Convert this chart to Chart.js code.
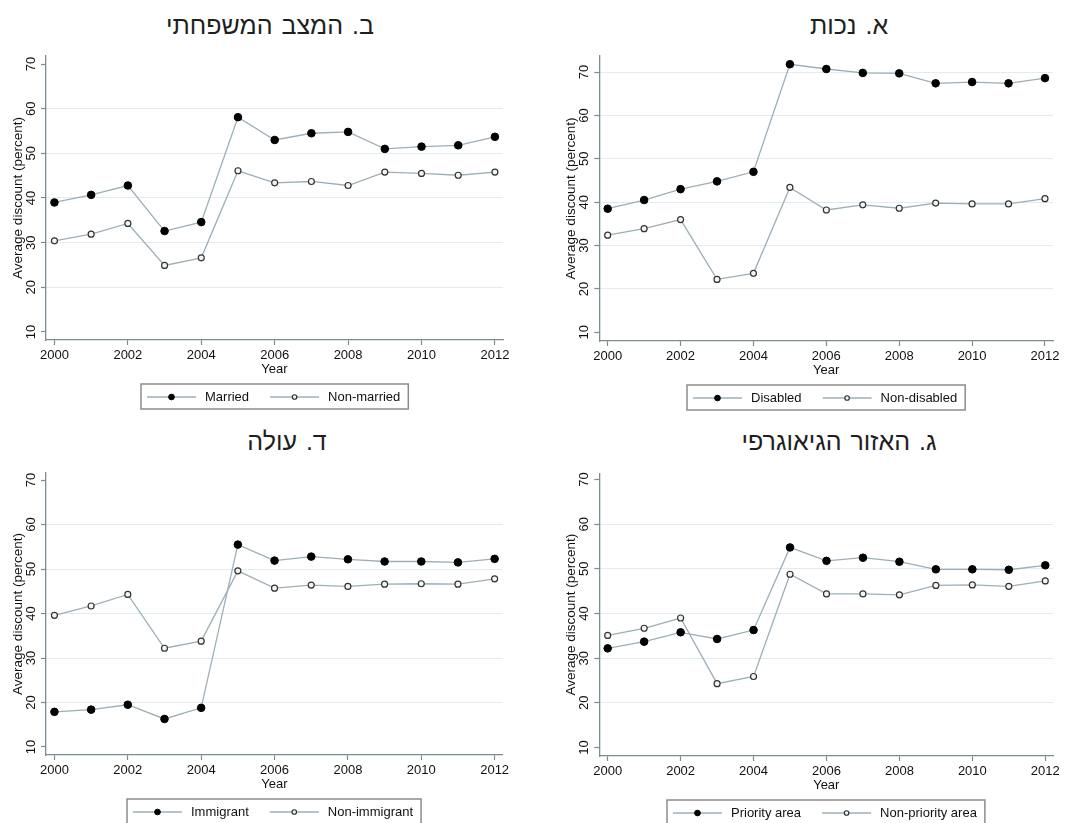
<!DOCTYPE html>
<html>
<head>
<meta charset="utf-8">
<script src="https://cdn.jsdelivr.net/npm/chart.js@4.4.1/dist/chart.umd.min.js"></script>
<style>
  html, body { margin: 0; padding: 0; background: #fff; }
  #page { position: relative; width: 1072px; height: 823px; overflow: hidden; background: #fff; }
  .panel { position: absolute; }
  .panel canvas { display: block; }
  .title {
    position: absolute; width: 400px; text-align: center;
    font-family: "Liberation Sans", Arial, sans-serif; font-size: 25px; line-height: 25px;
    color: #1e1e1e; direction: rtl; white-space: nowrap; word-spacing: 2px;
  }
</style>
</head>
<body>
<div id="page">
  <div class="title" style="left:70px;top:13px">ב. המצב המשפחתי</div>
  <div class="title" style="left:649px;top:13px">א. נכות</div>
  <div class="title" style="left:87px;top:429px">ד. עולה</div>
  <div class="title" style="left:639px;top:429px">ג. האזור הגיאוגרפי</div>

  <div class="panel" style="left:0;top:0;"><canvas id="cMarried" width="536" height="420"></canvas></div>
  <div class="panel" style="left:536px;top:0;"><canvas id="cDisabled" width="536" height="420"></canvas></div>
  <div class="panel" style="left:0;top:420px;"><canvas id="cImmigrant" width="536" height="403"></canvas></div>
  <div class="panel" style="left:536px;top:420px;"><canvas id="cPriority" width="536" height="403"></canvas></div>
</div>

<script>
// Survey years and axis ticks
const years = [2000, 2001, 2002, 2003, 2004, 2005, 2006, 2007, 2008, 2009, 2010, 2011, 2012];
const xTickYears = [2000, 2002, 2004, 2006, 2008, 2010, 2012];
const yTickValues = [10, 20, 30, 40, 50, 60, 70];

// Average discount (percent) by group
const married      = [39.0, 40.7, 42.8, 32.6, 34.6, 58.1, 53.0, 54.5, 54.8, 51.0, 51.5, 51.8, 53.7];
const nonMarried   = [30.4, 31.9, 34.3, 24.9, 26.6, 46.1, 43.4, 43.7, 42.8, 45.8, 45.5, 45.1, 45.8];

const disabled     = [38.5, 40.5, 43.0, 44.8, 47.0, 71.8, 70.7, 69.8, 69.7, 67.4, 67.7, 67.4, 68.6];
const nonDisabled  = [32.4, 33.9, 36.0, 22.2, 23.6, 43.4, 38.2, 39.4, 38.6, 39.8, 39.6, 39.6, 40.8];

const immigrant    = [17.9, 18.4, 19.5, 16.3, 18.8, 55.5, 51.9, 52.8, 52.2, 51.7, 51.7, 51.5, 52.3];
const nonImmigrant = [39.6, 41.7, 44.3, 32.2, 33.8, 49.6, 45.7, 46.4, 46.1, 46.6, 46.7, 46.6, 47.8];

const priority     = [32.2, 33.7, 35.8, 34.3, 36.3, 54.8, 51.8, 52.5, 51.6, 49.9, 49.9, 49.8, 50.8];
const nonPriority  = [35.1, 36.7, 39.0, 24.3, 25.9, 48.8, 44.4, 44.4, 44.2, 46.3, 46.4, 46.1, 47.3];

const FONT = '"Liberation Sans", Arial, Helvetica, sans-serif';
const TEXT = '#111111';
const AXIS = '#7d8c93';
const GRID = '#e1ecf0';
const LINE = '#9cafb9';

Chart.defaults.font.family = FONT;
Chart.defaults.color = TEXT;

// Axis labels, titles and the boxed legend underneath each plot
const panelDecor = {
  id: 'panelDecor',
  afterDraw(chart, args, opts) {
    const { ctx, chartArea: a, scales: { y } } = chart;
    ctx.save();
    ctx.fillStyle = TEXT;

    // rotated y tick labels
    ctx.font = '13px ' + FONT;
    ctx.textAlign = 'center';
    ctx.textBaseline = 'middle';
    y.ticks.forEach(t => {
      const py = y.getPixelForValue(t.value);
      ctx.save();
      ctx.translate(a.left - 14.5, py);
      ctx.rotate(-Math.PI / 2);
      ctx.fillText(String(t.value), 0, 0);
      ctx.restore();
    });

    // y axis title
    ctx.save();
    ctx.font = '13.5px ' + FONT;
    ctx.translate(a.left - 28, (a.top + a.bottom) / 2);
    ctx.rotate(-Math.PI / 2);
    ctx.fillText(opts.yTitle, 0, 0);
    ctx.restore();

    // x axis title
    ctx.font = '13px ' + FONT;
    ctx.fillText(opts.xTitle, (a.left + a.right) / 2, a.bottom + 29);

    // legend
    const sample = 49, gapText = 9, gapItem = 21, padL = 6, padR = 8, boxH = 25;
    const items = chart.data.datasets.map(ds => ({
      label: ds.label,
      fill: ds.pointBackgroundColor,
      stroke: ds.pointBorderColor,
      strokeW: ds.pointBorderWidth,
      r: ds.pointRadius * 0.75,
      line: ds.borderColor,
      w: ctx.measureText(ds.label).width
    }));
    let total = padL + padR;
    items.forEach((it, i) => { total += sample + gapText + it.w + (i ? gapItem : 0); });
    const bx = Math.round((a.left + a.right) / 2 - total / 2);
    const by = a.bottom + 44;
    ctx.fillStyle = '#fff';
    ctx.fillRect(bx, by, total, boxH);
    ctx.strokeStyle = '#8c8c8c';
    ctx.lineWidth = 1.5;
    ctx.strokeRect(bx, by, total, boxH);
    const cy = by + boxH / 2 + 0.5;
    let cx = bx + padL;
    items.forEach((it, i) => {
      if (i) cx += gapItem;
      ctx.strokeStyle = it.line;
      ctx.lineWidth = 1.3;
      ctx.beginPath();
      ctx.moveTo(cx, cy);
      ctx.lineTo(cx + sample, cy);
      ctx.stroke();
      ctx.beginPath();
      ctx.arc(cx + sample / 2, cy, it.r, 0, Math.PI * 2);
      ctx.fillStyle = it.fill;
      ctx.fill();
      ctx.strokeStyle = it.stroke;
      ctx.lineWidth = it.strokeW;
      ctx.stroke();
      cx += sample + gapText;
      ctx.fillStyle = TEXT;
      ctx.textAlign = 'left';
      ctx.fillText(it.label, cx, cy);
      cx += it.w;
    });
    ctx.restore();
  }
};

function series(label, values, filled) {
  return {
    label,
    data: years.map((yr, i) => ({ x: yr, y: values[i] })),
    borderColor: LINE,
    borderWidth: 1.3,
    tension: 0,
    fill: false,
    pointRadius: filled ? 3.8 : 3.0,
    pointHoverRadius: filled ? 3.8 : 3.0,
    pointBorderWidth: filled ? 1 : 1.2,
    pointBackgroundColor: filled ? '#000000' : '#f4f4f4',
    pointBorderColor: filled ? '#000000' : '#333333'
  };
}

function makePanel(id, datasets, area, yRange, gridVals) {
  const canvas = document.getElementById(id);
  const W = canvas.width, H = canvas.height;
  return new Chart(canvas, {
    type: 'line',
    data: { datasets },
    options: {
      responsive: false,
      animation: false,
      devicePixelRatio: 1,
      layout: { padding: { left: 0, top: area.top, right: W - area.right, bottom: 0 } },
      plugins: {
        legend: { display: false },
        tooltip: { enabled: false },
        panelDecor: { xTitle: 'Year', yTitle: 'Average discount (percent)' }
      },
      scales: {
        x: {
          type: 'linear',
          min: 1999.77,
          max: 2012.22,
          afterBuildTicks: s => { s.ticks = xTickYears.map(v => ({ value: v })); },
          afterFit: s => { s.height = H - area.bottom; },
          ticks: {
            font: { size: 13, family: FONT },
            color: TEXT,
            padding: 3,
            maxRotation: 0,
            autoSkip: false,
            callback: v => String(v)
          },
          grid: { drawOnChartArea: false, drawTicks: true, tickLength: 5, tickColor: AXIS, tickWidth: 1.2 },
          border: { display: true, color: AXIS, width: 1.3 }
        },
        y: {
          type: 'linear',
          min: yRange[0],
          max: yRange[1],
          afterBuildTicks: s => { s.ticks = yTickValues.map(v => ({ value: v })); },
          afterFit: s => { s.width = area.left; },
          ticks: { display: false },
          grid: {
            color: c => (c.tick && gridVals.includes(c.tick.value)) ? GRID : 'rgba(0,0,0,0)',
            lineWidth: 1,
            drawTicks: true,
            tickLength: 5,
            tickColor: AXIS,
            tickWidth: 1.2
          },
          border: { display: true, color: AXIS, width: 1.3 }
        }
      }
    },
    plugins: [panelDecor]
  });
}

makePanel('cMarried',
  [series('Married', married, true), series('Non-married', nonMarried, false)],
  { left: 46, right: 503, top: 56, bottom: 340 }, [8.2, 71.8], [20, 30, 40, 50, 60]);

makePanel('cDisabled',
  [series('Disabled', disabled, true), series('Non-disabled', nonDisabled, false)],
  { left: 63.3, right: 517, top: 56, bottom: 341 }, [8.0, 73.7], [20, 30, 40, 50, 60, 70]);

makePanel('cImmigrant',
  [series('Immigrant', immigrant, true), series('Non-immigrant', nonImmigrant, false)],
  { left: 46, right: 502.7, top: 53, bottom: 335 }, [8.2, 71.6], [20, 30, 40, 50, 60]);

makePanel('cPriority',
  [series('Priority area', priority, true), series('Non-priority area', nonPriority, false)],
  { left: 63.3, right: 517.3, top: 53.3, bottom: 336 }, [8.1, 71.4], [20, 30, 40, 50, 60]);
</script>
</body>
</html>
